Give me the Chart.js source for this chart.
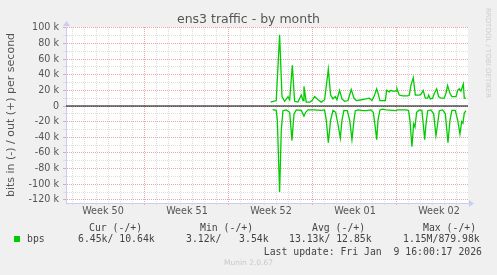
<!DOCTYPE html>
<html>
<head>
<meta charset="utf-8">
<script src="https://cdn.jsdelivr.net/npm/chart.js@4.4.1/dist/chart.umd.min.js"></script>
<style>
  body { margin: 0; background: #f0f0f0; }
  #wrap { position: relative; width: 497px; height: 275px; overflow: hidden; }
  #myChart { position: absolute; left: 0; top: 0; }
  .title { position: absolute; left: 0; top: 11px; width: 497px; text-align: center;
           font: 12.5px 'DejaVu Sans'; line-height: 15px; color: #555; }
  .side { position: absolute; left: 488px; top: 53px; transform: translate(-50%, -50%) rotate(90deg);
          font: 7px 'DejaVu Sans'; color: #cdcdcd; white-space: nowrap; }
  .lg { position: absolute; font: 9.8px 'DejaVu Sans Mono'; line-height: 12px; color: #444; white-space: pre; }
  .swatch { position: absolute; left: 14px; top: 236px; width: 6px; height: 6px; background: #00cc00; }
  .munin { position: absolute; left: 0; width: 497px; top: 258px; text-align: center;
           font: 7.5px 'DejaVu Sans'; line-height: 10px; color: #c8c8c8; }
</style>
</head>
<body>
<div id="wrap">
  <canvas id="myChart" width="497" height="275"></canvas>
  <div class="title">ens3 traffic - by month</div>
  <div class="side">RRDTOOL / TOBI OETIKER</div>

  <div class="lg" style="left:89px;top:222px">Cur (-/+)</div>
  <div class="lg" style="left:200px;top:222px">Min (-/+)</div>
  <div class="lg" style="left:312px;top:222px">Avg (-/+)</div>
  <div class="lg" style="left:423px;top:222px">Max (-/+)</div>

  <div class="swatch"></div>
  <div class="lg" style="left:27px;top:233px">bps</div>
  <div class="lg" style="left:78px;top:233px">6.45k/ 10.64k</div>
  <div class="lg" style="left:186px;top:233px">3.12k/   3.54k</div>
  <div class="lg" style="left:289px;top:233px">13.13k/ 12.85k</div>
  <div class="lg" style="left:403px;top:233px">1.15M/879.98k</div>

  <div class="lg" style="right:15px;top:246px">Last update: Fri Jan  9 16:00:17 2026</div>
  <div class="munin">Munin 2.0.67</div>
</div>
<script>
// days counted from Monday of week 51 (00:00)
const xMin = -6.58
const xMax = 26.92

const weekMid = [-3.5, 3.5, 10.5, 17.5, 24.5]
const weekLabels = ['Week 50', 'Week 51', 'Week 52', 'Week 01', 'Week 02']

// out (+), kbit/s
const outDays = [10.47, 10.94, 11.22, 11.42, 11.64, 11.92, 12.06, 12.28, 12.47, 12.75,
    13.03, 13.17, 13.25, 13.44, 13.75, 13.92, 14.14, 14.42, 14.69, 14.97,
    15.28, 15.47, 15.67, 15.86, 16.0, 16.22, 16.42, 16.64, 16.92, 17.19,
    17.42, 17.61, 18.03, 18.42, 18.69, 18.92, 19.11, 19.31, 19.47, 19.58,
    20.03, 20.14, 20.36, 20.5, 20.64, 20.92, 21.0, 21.19, 21.47, 21.89,
    22.03, 22.17, 22.36, 22.53, 22.86, 23.0, 23.19, 23.36, 23.56, 23.64,
    23.78, 23.97, 24.11, 24.31, 24.47, 24.67, 24.94, 25.08, 25.22, 25.42,
    25.58, 25.92, 26.06, 26.19, 26.33, 26.42, 26.53, 26.61, 26.75]
const outK = [5, 7, 91, 12, 6, 12, 8, 52, 6, 5,
    14, 7, 25, 5, 5, 7, 12, 8, 5, 8,
    47, 14, 9, 12, 8, 20, 9, 6, 7, 21,
    10, 7, 8, 9, 10, 7, 13, 22, 14, 7,
    7, 20, 18, 20, 19, 19, 22, 14, 13, 13,
    14, 27, 36, 14, 14, 15, 20, 10, 10, 14,
    9, 10, 16, 22, 12, 10, 10, 16, 26, 16,
    12, 12, 20, 22, 19, 23, 28, 10, 10]

// in (-), kbit/s
const inDays = [10.64, 10.94, 11.03, 11.22, 11.36, 11.5, 11.78, 12.06, 12.25, 12.42,
    12.61, 13.03, 13.25, 13.39, 13.58, 14.14, 14.69, 14.97, 15.11, 15.28,
    15.47, 15.67, 15.89, 16.08, 16.28, 16.42, 16.58, 16.86, 17.06, 17.25,
    17.42, 17.53, 17.75, 18.17, 18.44, 18.83, 19.03, 19.19, 19.31, 19.42,
    19.58, 19.81, 20.08, 20.64, 20.86, 21.06, 21.81, 21.97, 22.08, 22.25,
    22.39, 22.5, 22.64, 22.86, 23.08, 23.19, 23.31, 23.42, 23.56, 23.83,
    24.06, 24.25, 24.39, 24.53, 24.81, 25.03, 25.25, 25.42, 25.58, 25.86,
    26.06, 26.25, 26.39, 26.5, 26.61, 26.75]
const inK = [4.7, 5.6, 18, 110, 31, 6, 5, 8, 44, 10,
    5, 5.6, 13, 8, 5, 5, 5.6, 5, 18, 47,
    18, 5.6, 8, 23, 41, 18, 5.6, 6, 18, 43,
    18, 6, 5, 6, 6, 5, 8, 27, 43, 18,
    5, 4, 5, 5.6, 6, 5, 5, 6, 18, 52,
    23, 27, 8, 5, 5.6, 23, 43, 23, 6, 5,
    10, 38, 23, 6, 5, 10, 47, 18, 5.6, 5.6,
    18, 36, 20, 22, 9, 6]

const yTicks = []
for (let v = -120; v <= 100; v += 10) yTicks.push(v)
const dayTicks = []
for (let d = -6; d <= 26; d++) dayTicks.push(d)

const RED = '#eba5a5'
const GREY = '#dddddd'
const AXIS = '#c9cdf5'

const plotBg = {
    id: 'plotBg',
    beforeDraw(chart) {
        const { ctx, chartArea: a } = chart
        ctx.save()
        ctx.fillStyle = '#ffffff'
        ctx.fillRect(a.left, a.top, a.right - a.left, a.bottom - a.top)
        ctx.restore()
    },
    afterDraw(chart) {
        const { ctx, chartArea: a } = chart
        ctx.save()
        ctx.fillStyle = AXIS
        // arrow on top of y axis
        ctx.beginPath()
        ctx.moveTo(a.left - 3, a.top - 1)
        ctx.lineTo(a.left + 4, a.top - 1)
        ctx.lineTo(a.left + 0.5, a.top - 6)
        ctx.fill()
        // arrow at end of x axis
        ctx.beginPath()
        ctx.moveTo(a.right + 1, a.bottom - 3)
        ctx.lineTo(a.right + 1, a.bottom + 4)
        ctx.lineTo(a.right + 6, a.bottom + 0.5)
        ctx.fill()
        ctx.restore()
    }
}

const ctx = document.getElementById('myChart')

new Chart(ctx, {
    type: 'line',
    data: {
        datasets: [
            {
                label: 'out',
                data: outDays.map((d, i) => ({ x: d, y: outK[i] })),
                borderColor: '#00cc00',
                borderWidth: 1.3,
                pointRadius: 0,
                tension: 0
            },
            {
                label: 'in',
                data: inDays.map((d, i) => ({ x: d, y: -inK[i] })),
                borderColor: '#00cc00',
                borderWidth: 1.3,
                pointRadius: 0,
                tension: 0
            },
            {
                label: 'zero',
                data: [{ x: xMin, y: 0 }, { x: xMax, y: 0 }],
                borderColor: '#000000',
                borderWidth: 1,
                pointRadius: 0
            }
        ]
    },
    options: {
        responsive: false,
        animation: false,
        devicePixelRatio: 1,
        layout: {
            padding: { left: 0, right: 29, top: 27, bottom: 0 }
        },
        plugins: {
            legend: { display: false },
            title: { display: false },
            tooltip: { enabled: false }
        },
        scales: {
            x: {
                type: 'linear',
                min: xMin,
                max: xMax,
                afterFit: (scale) => { scale.height = 72 },
                afterBuildTicks: (scale) => {
                    scale.ticks = dayTicks.concat(weekMid).map(v => ({ value: v }))
                },
                ticks: {
                    autoSkip: false,
                    maxRotation: 0,
                    padding: 1,
                    color: '#555',
                    font: { family: 'DejaVu Sans', size: 9.6 },
                    callback: (value) => {
                        const i = weekMid.indexOf(value)
                        return i >= 0 ? weekLabels[i] : ''
                    }
                },
                grid: {
                    color: (c) => {
                        const v = c.tick ? c.tick.value : 0
                        if (weekMid.includes(v)) return 'rgba(0,0,0,0)'
                        return v % 7 === 0 ? RED : GREY
                    },
                    tickColor: (c) => {
                        const v = c.tick ? c.tick.value : 0
                        if (weekMid.includes(v)) return 'rgba(0,0,0,0)'
                        return v % 7 === 0 ? RED : GREY
                    },
                    tickLength: 2,
                    lineWidth: 1
                },
                border: { display: true, color: AXIS, width: 1, dash: [1, 1] }
            },
            y: {
                min: -124,
                max: 101,
                afterFit: (scale) => { scale.width = 66 },
                afterBuildTicks: (scale) => {
                    scale.ticks = yTicks.map(v => ({ value: v }))
                },
                title: {
                    display: true,
                    text: 'bits in (-) / out (+) per second',
                    color: '#555',
                    font: { family: 'DejaVu Sans', size: 11 },
                    padding: { top: 5, bottom: 0 }
                },
                ticks: {
                    autoSkip: false,
                    padding: 4,
                    color: '#555',
                    font: { family: 'DejaVu Sans', size: 9.6 },
                    callback: (value) => {
                        if (value % 20 !== 0) return ''
                        return value === 0 ? '0' : value + ' k'
                    }
                },
                grid: {
                    color: (c) => {
                        const v = c.tick ? c.tick.value : 0
                        return v % 20 === 0 ? RED : GREY
                    },
                    tickColor: (c) => {
                        const v = c.tick ? c.tick.value : 0
                        return v % 20 === 0 ? RED : GREY
                    },
                    tickLength: 3,
                    lineWidth: 1
                },
                border: { display: true, color: AXIS, width: 1, dash: [1, 1] }
            }
        }
    },
    plugins: [plotBg]
})
</script>
</body>
</html>
